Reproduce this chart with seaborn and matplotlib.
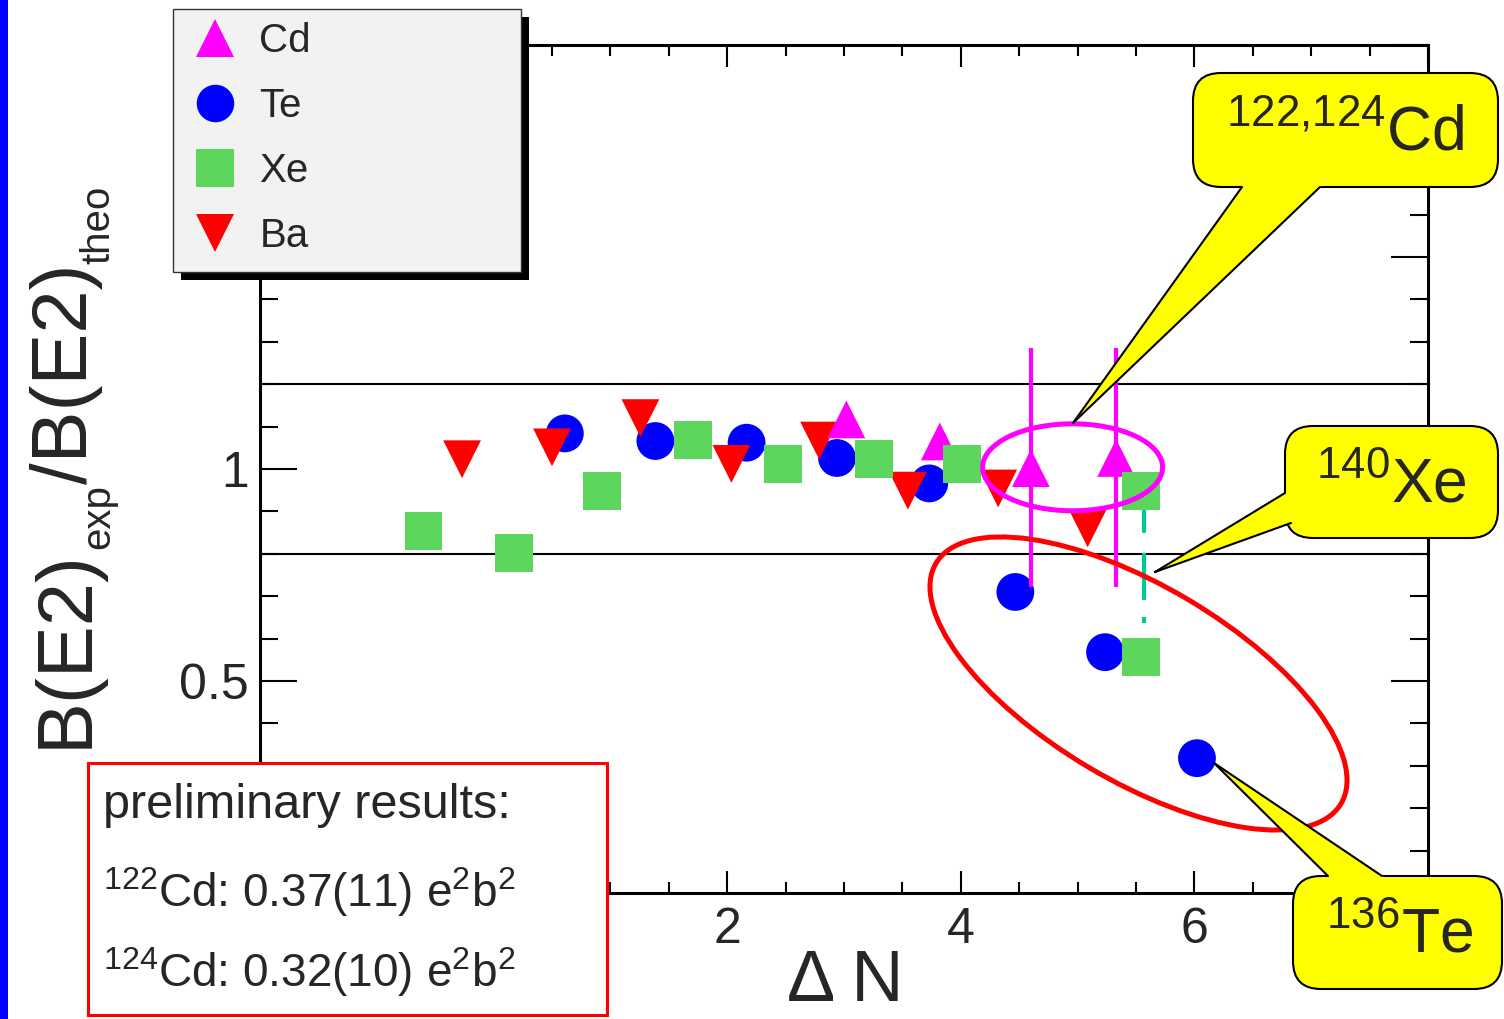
import numpy as np
import pandas as pd
import seaborn as sns
import matplotlib.pyplot as plt
from matplotlib.lines import Line2D
from matplotlib.patches import Rectangle, Ellipse, FancyBboxPatch, Polygon
from matplotlib.transforms import Affine2D

# =============================================================================
# Data (Delta N vs B(E2)exp / B(E2)theo)
# =============================================================================
cd_dn = [3.02, 3.82, 4.60, 5.33]
cd_ratio = [1.117, 1.065, 1.002, 1.026]

te_dn = [0.61, 1.385, 2.166, 2.94, 3.73, 4.467, 5.235, 6.022]
te_ratio = [1.084, 1.066, 1.062, 1.026, 0.966, 0.710, 0.568, 0.318]

xe_dn = [-0.60, 0.175, 0.929, 1.71, 2.48, 3.258, 4.013, 5.54, 5.545]
xe_ratio = [0.853, 0.801, 0.949, 1.068, 1.011, 1.023, 1.012, 0.949, 0.557]

ba_dn = [-0.27, 0.50, 1.257, 2.036, 2.787, 3.547, 4.32, 5.086]
ba_ratio = [1.023, 1.051, 1.120, 1.012, 1.067, 0.949, 0.954, 0.860]

# error bars of the two new Cd points
cd_bar_dn = [4.60, 5.33]
cd_bar_lo = [0.722, 0.722]
cd_bar_hi = [1.285, 1.285]

# 140Xe link (dash-dot), drawn from the bottom up
xe_link_dn = [5.57, 5.57]
xe_link_ratio = [0.637, 0.95]

band = [0.8, 1.2]

# ticks; labels that sit under the boxes are not visible in the picture
x_ticks = [-2, 0, 2, 4, 6, 8]
x_tick_labels = ['', '', '2', '4', '6', '']
y_ticks = [0, 0.5, 1, 1.5, 2]
y_tick_labels = ['', '0.5', '1', '', '']

legend_order = ['Cd', 'Te', 'Xe', 'Ba']
colors = {'Cd': '#ff00ff', 'Te': '#0000ff', 'Xe': '#5cd65c', 'Ba': '#ff0000'}
markers = {'Cd': '^', 'Te': 'o', 'Xe': 's', 'Ba': 'v'}

# draw order: Te, Ba, Cd, Xe
df = pd.concat([
    pd.DataFrame({'dN': te_dn, 'ratio': te_ratio, 'nucleus': 'Te'}),
    pd.DataFrame({'dN': ba_dn, 'ratio': ba_ratio, 'nucleus': 'Ba'}),
    pd.DataFrame({'dN': cd_dn, 'ratio': cd_ratio, 'nucleus': 'Cd'}),
    pd.DataFrame({'dN': xe_dn, 'ratio': xe_ratio, 'nucleus': 'Xe'}),
], ignore_index=True)

sns.set_style('ticks')
plt.rcParams['font.family'] = ['Liberation Sans', 'DejaVu Sans']
plt.rcParams['mathtext.fontset'] = 'custom'
plt.rcParams['mathtext.rm'] = 'Liberation Sans'
plt.rcParams['mathtext.it'] = 'Liberation Sans'
plt.rcParams['mathtext.default'] = 'regular'

W, H = 1504, 1019
fig = plt.figure(figsize=(W / 100, H / 100), dpi=100)
# pixel coords of the picture, y going down
T = Affine2D().scale(1, -1).translate(0, H)

ax = fig.add_axes([260 / W, 1 - 893 / H, 1168 / W, 848 / H])

for yb in band:
    ax.axhline(yb, color='black', lw=1.5, zorder=1)

ax.plot(xe_link_dn, xe_link_ratio, color='#00c896', lw=3,
        dashes=(1.44, 4.1, 11.3, 4.8, 14, 4.8), zorder=1.5)

sns.scatterplot(data=df, x='dN', y='ratio', hue='nucleus', style='nucleus',
                palette=colors, markers=markers, s=740, linewidth=0,
                legend=False, ax=ax, zorder=3)

ax.vlines(cd_bar_dn, cd_bar_lo, cd_bar_hi, color='#ff00ff', lw=3, zorder=4)

ax.set_xlim(-2, 8)
ax.set_ylim(0, 2)
ax.set_xticks(x_ticks, x_tick_labels)
ax.set_yticks(y_ticks, y_tick_labels)
ax.set_xticks(np.arange(-2, 8.01, 0.5), minor=True)
ax.set_yticks(np.arange(0, 2.001, 0.1), minor=True)
ax.tick_params(which='both', direction='in', top=True, right=True,
               width=1.5, color='black', labelsize=36)
ax.tick_params(axis='x', which='major', length=16, pad=10)
ax.tick_params(axis='x', which='minor', length=8)
ax.tick_params(axis='y', which='major', length=26.5, pad=8)
ax.tick_params(axis='y', which='minor', length=13)
for sp in ax.spines.values():
    sp.set_linewidth(2.2)
    sp.set_color('black')

ax.set_ylabel('')
ax.set_xlabel('Δ N', fontsize=52)
ax.xaxis.set_label_coords((845 - 260) / 1168, (893 - 1001) / 848)
ax.xaxis.label.set_va('baseline')

# =============================================================================
# Figure decorations
# =============================================================================
fig.add_artist(Rectangle((0, 0), 8, H, transform=T, color='#0000ff', lw=0))

# y label built from pieces (small subscripts)
renderer = fig.canvas.get_renderer()
ypos = 748
for txt, size, xb in [('B(E2)', 56, 87), ('exp', 29, 109),
                      ('/B(E2)', 56, 87), ('theo', 29, 109)]:
    t = fig.text(xb, ypos, txt, transform=T, rotation=90,
                 rotation_mode='anchor', ha='left', va='baseline', fontsize=size)
    ypos -= t.get_window_extent(renderer).height

# legend with shadow
fig.add_artist(Rectangle((180.5, 17), 348.5, 262.5, transform=T,
                         fc='black', ec='none'))
fig.add_artist(Rectangle((172.5, 9), 348.5, 262.5, transform=T,
                         fc='#f2f2f2', ec='#333333', lw=1))
handles = [Line2D([], [], ls='none', marker=markers[n], color=colors[n],
                  ms=27, mew=0) for n in legend_order]
fig.legend(handles, legend_order, loc='upper left',
           bbox_to_anchor=(195 / W, 1 - 22 / H), frameon=False, fontsize=29,
           handlelength=1.0, handletextpad=0.6, labelspacing=0.67,
           borderpad=0, borderaxespad=0)

# preliminary results box
fig.add_artist(Rectangle((88, 763), 519, 252, transform=T,
                         fc='white', ec='#ff0000', lw=2.2))
fig.text(103, 818, 'preliminary results:', transform=T, fontsize=35,
         ha='left', va='baseline')
fig.text(103, 907, r'$^{122}$Cd: 0.37(11) e$^{2}$b$^{2}$', transform=T,
         fontsize=33, ha='left', va='baseline')
fig.text(103, 987, r'$^{124}$Cd: 0.32(10) e$^{2}$b$^{2}$', transform=T,
         fontsize=33, ha='left', va='baseline')

# ellipses
fig.add_artist(Ellipse((1072.6, 467.3), 180, 87, transform=T,
                       fc='none', ec='#ff00ff', lw=3.6))
fig.add_artist(Ellipse((1138.5, 683.5), 471, 195, angle=30.7, transform=T,
                       fc='none', ec='#ff0000', lw=3.6))


def callout(box, tip, bases, label, text_xy, size=45):
    x0, y0, x1, y1 = box
    tx, ty = tip
    inner = []
    for bx, by in bases:
        d = np.hypot(bx - tx, by - ty)
        inner.append((bx + (bx - tx) / d * 10, by + (by - ty) / d * 10))
    fig.add_artist(FancyBboxPatch((x0, y0), x1 - x0, y1 - y0,
                                  boxstyle='round,pad=0,rounding_size=28',
                                  fc='#ffff00', ec='black', lw=1.5, transform=T))
    fig.add_artist(Polygon([tip, inner[1], inner[0]], closed=True,
                           fc='#ffff00', ec='none', transform=T))
    for bx, by in bases:
        fig.add_artist(Line2D([tx, bx], [ty, by], color='black', lw=1.5,
                              transform=T))
    fig.text(text_xy[0], text_xy[1], label, transform=T, fontsize=size,
             ha='center', va='baseline')


callout((1193, 73, 1498, 187), (1073, 423), [(1242, 187), (1320, 187)],
        r'$^{122{,}124}$Cd', (1345, 150))
callout((1285, 426, 1498, 538), (1155, 572), [(1285, 493), (1291, 523)],
        r'$^{140}$Xe', (1391, 502))
callout((1293, 876, 1502, 989), (1214, 763), [(1328, 876), (1382, 876)],
        r'$^{136}$Te', (1400, 952))

fig.savefig('out.png', dpi=100)
